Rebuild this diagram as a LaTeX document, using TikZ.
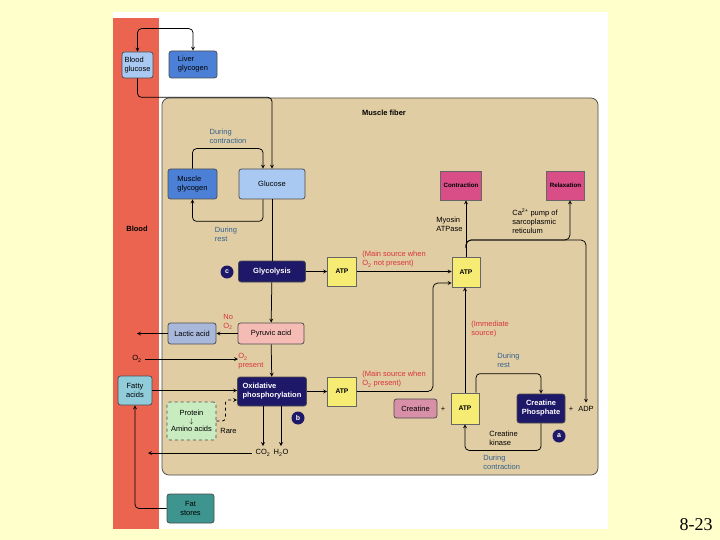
\documentclass[tikz,border=0pt]{standalone}
\usepackage{fontspec}
\setmainfont{Liberation Sans}
\newfontfamily\slidefont{Liberation Serif}

\definecolor{slideyellow}{HTML}{FFFFCC}
\definecolor{bloodred}{HTML}{EA6450}
\definecolor{fibertan}{HTML}{E1CDA3}
\definecolor{paleblue}{HTML}{A9C9F2}
\definecolor{midblue}{HTML}{4C80D6}
\definecolor{navybox}{HTML}{1E1868}
\definecolor{atpyellow}{HTML}{F6EC74}
\definecolor{magentabox}{HTML}{DA4E88}
\definecolor{creatinepink}{HTML}{D890A8}
\definecolor{pyruvicpink}{HTML}{F5BCB6}
\definecolor{lacticblue}{HTML}{A8B8DA}
\definecolor{fattycyan}{HTML}{90CCDA}
\definecolor{proteingreen}{HTML}{C9EBC0}
\definecolor{fatteal}{HTML}{3E948E}
\definecolor{labelred}{HTML}{D8343E}
\definecolor{labelblue}{HTML}{32608E}

\begin{document}
\begin{tikzpicture}[x=1pt, y=-1pt, ->, >=stealth, line width=0.75pt, font=\fontsize{7.5}{9}\selectfont,
  box/.style={draw=black!70, rounded corners=2.5pt, align=center, inner sep=1pt},
  dark/.style={box, fill=navybox, text=white, font=\fontsize{7.5}{9}\selectfont\bfseries},
  atp/.style={draw=black!60, fill=atpyellow, minimum width=29pt, minimum height=29pt, font=\fontsize{6.7}{8}\selectfont\bfseries},
  action/.style={draw=black!60, fill=magentabox, minimum width=38pt, minimum height=29pt, font=\fontsize{6.2}{8}\selectfont\bfseries},
  badge/.style={circle, fill=navybox, text=white, minimum size=13pt, inner sep=0pt, font=\fontsize{7}{8}\selectfont\bfseries},
  redlabel/.style={text=labelred, align=left, anchor=west, inner sep=0pt},
  bluelabel/.style={text=labelblue, align=left, inner sep=0pt},
  note/.style={align=left, inner sep=0pt}]
\useasboundingbox (0,0) rectangle (720,540);
\fill[-, slideyellow] (0,0) rectangle (720,540);
\fill[-, white] (113,12) rectangle (608,529);
\fill[-, bloodred] (113,18) rectangle (159,529);
\draw[-, draw=black!70, fill=fibertan, rounded corners=7pt] (162,98) rectangle (598,475);

% blood side
\node[box, fill=paleblue, minimum width=31pt, minimum height=26pt, align=left] (bgluc) at (137.5,65) {Blood\\glucose};
\node[box, fill=midblue, minimum width=48pt, minimum height=27pt, align=left] (liver) at (193,64.5) {Liver\\glycogen};
\node[font=\fontsize{7.5}{9}\selectfont\bfseries] (blood) at (137,229) {Blood};
\node[box, fill=fattycyan, minimum width=34pt, minimum height=29pt] (fatty) at (135,390.5) {Fatty\\acids};
\node[box, fill=fatteal, minimum width=47pt, minimum height=29pt] (fat) at (190.5,508.5) {Fat\\stores};
\node (o2) at (137,359) {O\textsubscript{2}};
\coordinate (lacout) at (137,333.5);
\coordinate (co2out) at (148,453);

% muscle fiber
\node[font=\fontsize{7.5}{9}\selectfont\bfseries] (fiber) at (384,113) {Muscle fiber};
\node[box, fill=midblue, minimum width=49pt, minimum height=30pt, align=left] (mglyc) at (192.5,184) {Muscle\\glycogen};
\node[box, fill=paleblue, minimum width=66pt, minimum height=30pt] (glucose) at (272,184) {Glucose};
\node[bluelabel] (duringc1) at (228,136.5) {During\\contraction};
\node[bluelabel] (duringr1) at (226,234.5) {During\\rest};
\node[dark, minimum width=67pt, minimum height=21pt] (glyc) at (272,271.5) {Glycolysis};
\node[badge] (c) at (227,272) {c};
\node[atp] (atp1) at (342,271.5) {ATP};
\node[box, fill=pyruvicpink, minimum width=66pt, minimum height=21pt] (pyr) at (271,333.5) {Pyruvic acid};
\node[box, fill=lacticblue, minimum width=48pt, minimum height=21pt] (lactic) at (192,333.5) {Lactic acid};
\node[redlabel] (noo2) at (223,322) {No\\O\textsubscript{2}};
\node[redlabel] (o2pres) at (238,361.5) {O\textsubscript{2}\\present};
\node[dark, minimum width=69pt, minimum height=29pt, align=left] (oxid) at (272,391.5) {Oxidative\\phosphorylation};
\node[atp] (atp2) at (342,391.5) {ATP};
\node[box, fill=proteingreen, dashed, minimum width=49pt, minimum height=38pt] (protein) at (191.5,421) {Protein\\[-1pt]$\downarrow$\\[-1pt]Amino acids};
\node[inner sep=0pt] (rare) at (228.5,431) {Rare};
\node[badge] (b) at (298,418) {b};
\node (co2) at (263,453) {CO\textsubscript{2}};
\node (h2o) at (281,453) {H\textsubscript{2}O};

% ATP use
\node[redlabel] (main1) at (362,259.5) {(Main source when\\O\textsubscript{2} not present)};
\node[redlabel] (main2) at (362,379.5) {(Main source when\\O\textsubscript{2} present)};
\node[atp, minimum width=28pt, minimum height=30pt] (atp3) at (466,272) {ATP};
\node[action] (contr) at (461,185.5) {Contraction};
\node[action, minimum width=37pt] (relax) at (565.5,185.5) {Relaxation};
\node[note, anchor=west] (myosin) at (436,224) {Myosin\\ATPase};
\node[note, anchor=west] (capump) at (512,221) {Ca\textsuperscript{2+} pump of\\sarcoplasmic\\reticulum};
\node[redlabel] (immsrc) at (471,329.5) {(Immediate\\source)};
\node[box, fill=creatinepink, minimum width=43pt, minimum height=19pt] (creat) at (415.5,408.5) {Creatine};
\node (plus1) at (443,409) {+};
\node[atp, minimum width=28pt, minimum height=31pt] (atp4) at (465,408.5) {ATP};
\node[dark, minimum width=48pt, minimum height=29pt] (crp) at (541,408.5) {Creatine\\Phosphate};
\node (plus2) at (571,409) {+};
\node (adp) at (586,409) {ADP};
\node[badge] (a) at (559,436) {a};
\node[bluelabel, anchor=west] (duringr2) at (497,360) {During\\rest};
\node[note, anchor=west] (crkin) at (489,438.5) {Creatine\\kinase};
\node[bluelabel, anchor=west] (duringc2) at (483,462.5) {During\\contraction};
\coordinate (split) at (466,248);
\coordinate (relin) at ([xshift=4.5pt]relax.south);

\node[font=\slidefont\fontsize{18}{20}\selectfont] (slideno) at (696,525) {8-23};

% connectors
\draw[<->, rounded corners=4pt] (bgluc.north) -- ++(0,-23) -| (liver.north);
\draw[rounded corners=4pt] (bgluc.south) -- ++(0,19) -| (glucose.north);
\draw[rounded corners=4pt] (mglyc.north) -- ++(0,-20) -| ([xshift=-9pt]glucose.north);
\draw[rounded corners=4pt] ([xshift=-9pt]glucose.south) -- ++(0,22) -| (mglyc.south);
\draw[-] (glucose.south) -- (glyc.north);
\draw (glyc) -- (atp1);
\draw (glyc) -- (pyr);
\draw (pyr) -- (lactic);
\draw (lactic) -- (lacout);
\draw (o2) -- (o2 -| o2pres.west);
\draw (pyr) -- (oxid);
\draw (fatty.east) -- (fatty.east -| oxid.west);
\draw (oxid) -- (atp2);
\draw[dashed, rounded corners=3pt] (protein.east) -- ++(9,0) |- ([yshift=-8.5pt]oxid.west);
\draw (oxid.south -| co2) -- (co2);
\draw (oxid.south -| h2o) -- (h2o);
\draw (co2) -- (co2out);
\draw[rounded corners=4pt] (fat.west) -| (fatty.south);
\draw (atp1.east) -- (atp1.east -| atp3.west);
\draw[rounded corners=5pt] (atp2.east) -- ++(76,0) |- ([yshift=-11pt]atp3.west);
\draw (atp3.north) -- (atp3.north |- contr.south);
\draw[rounded corners=5pt] (split) |- (relin |- 0,240) -- (relin);
\draw[rounded corners=5pt] (split) |- (adp.north |- 0,240) -- (adp.north);
\draw (atp4.north) -- (atp4.north |- atp3.south);
\draw[rounded corners=4pt] ([xshift=11pt]atp4.north) -- ++(0,-19) -| (crp.north);
\draw[rounded corners=4pt] (crp.south) -- ++(0,27) -| (atp4.south);
\end{tikzpicture}
\end{document}
